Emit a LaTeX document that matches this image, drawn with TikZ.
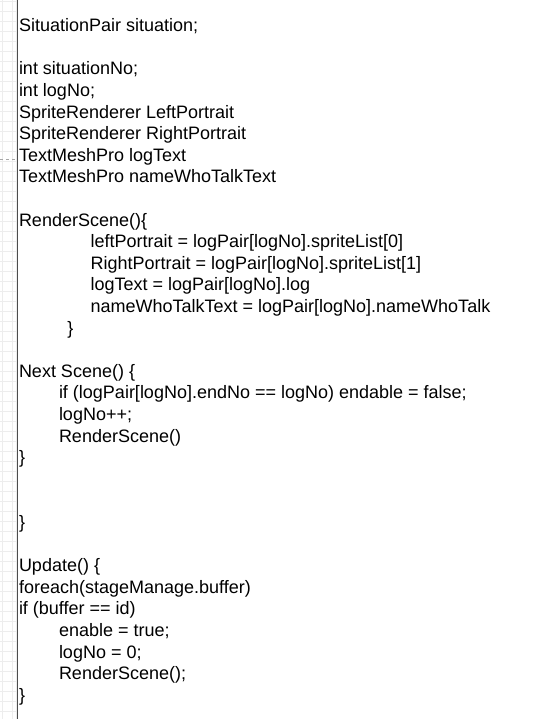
\documentclass[tikz,border=0pt]{standalone}
\usepackage{fontspec}
\setmainfont{Liberation Sans}
\usetikzlibrary{positioning}

\begin{document}
\begin{tikzpicture}[
    x=1pt, y=-1pt,
    code/.style={anchor=north west, inner sep=0pt, align=left, font=\fontsize{18}{21.6}\selectfont},
    gridline/.style={draw=black!7, line width=0.6pt}
]
    \useasboundingbox (0,0) rectangle (552,719);

    % canvas grid on the left edge
    \foreach \gy in {1,11,...,711} \draw[gridline] (0,\gy) -- (17,\gy);
    \foreach \gx in {2,12,16.5} \draw[gridline] (\gx,0) -- (\gx,719);
    \draw[black!35, dashed] (0,159.5) -- (17,159.5);
    \draw[black!70, line width=1.2pt] (17.7,0) -- (17.7,719);

    % fields
    \node[code] (pair) at (18.8,16.38) {\strut SituationPair situation;};
    \node[code] (fields) at (18.8,59.58) {\strut int situationNo;\\
        int logNo;\\
        SpriteRenderer LeftPortrait\\
        SpriteRenderer RightPortrait\\
        TextMeshPro logText\\
        TextMeshPro nameWhoTalkText};

    % RenderScene
    \node[code] (render) at (18.8,210.78) {\strut RenderScene()\{\\
        \hspace*{71.6pt}leftPortrait = logPair[logNo].spriteList[0]\\
        \hspace*{71.6pt}RightPortrait = logPair[logNo].spriteList[1]\\
        \hspace*{71.6pt}logText = logPair[logNo].log\\
        \hspace*{71.6pt}nameWhoTalkText = logPair[logNo].nameWhoTalk\\
        \hspace*{48.4pt}\}};

    % Next Scene
    \node[code] (next) at (18.8,361.98) {\strut Next Scene() \{\\
        \hspace*{40pt}if (logPair[logNo].endNo == logNo) endable = false;\\
        \hspace*{40pt}logNo++;\\
        \hspace*{40pt}RenderScene()\\
        \}};
    \node[code] (stray) at (18.8,513.18) {\strut\}};

    % Update
    \node[code] (update) at (18.8,556.38) {\strut Update() \{\\
        foreach(stageManage.buffer)\\
        if (buffer == id)\\
        \hspace*{40pt}enable = true;\\
        \hspace*{40pt}logNo = 0;\\
        \hspace*{40pt}RenderScene();\\
        \}};
\end{tikzpicture}
\end{document}
